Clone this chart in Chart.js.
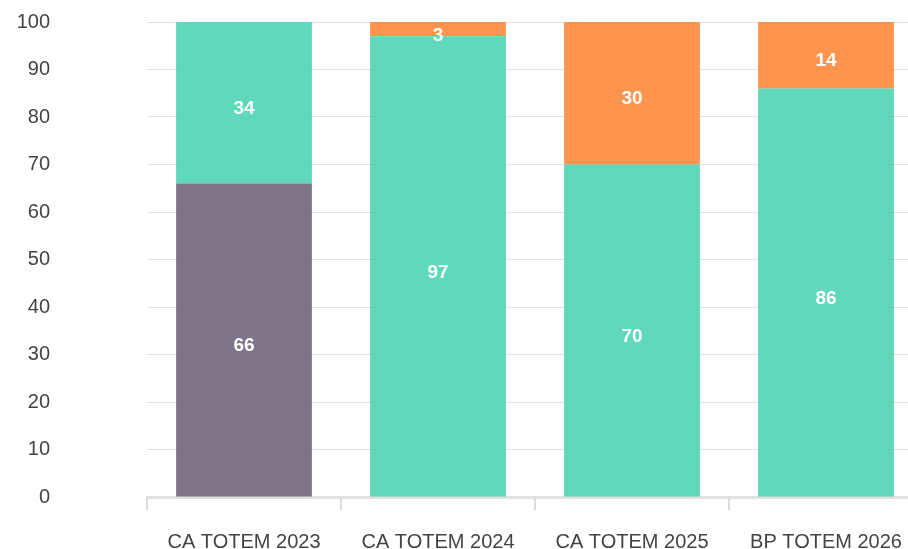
<!DOCTYPE html>
<html>
<head>
<meta charset="utf-8">
<script src="https://cdn.jsdelivr.net/npm/chart.js@4/dist/chart.umd.min.js"></script>
<style>
  html, body { margin: 0; padding: 0; background: #fff; }
  #clip { width: 908px; height: 549px; overflow: hidden; position: relative; }
  canvas { display: block; }
</style>
</head>
<body>
<div id="clip"><canvas id="chart" width="923" height="549" style="width:923px;height:549px"></canvas></div>
<script>
// Données
const categories = ['CA TOTEM 2023', 'CA TOTEM 2024', 'CA TOTEM 2025', 'BP TOTEM 2026'];
const seriesPurple = [66, 0, 0, 0];
const seriesGreen = [34, 97, 70, 86];
const seriesOrange = [0, 3, 30, 14];

const FONT = '"Liberation Sans", Arial, sans-serif';

// Étiquettes de valeurs au centre des segments
const valueLabels = {
  id: 'valueLabels',
  afterDatasetsDraw(chart) {
    const ctx = chart.ctx;
    ctx.save();
    ctx.font = 'bold 19px ' + FONT;
    ctx.fillStyle = '#fff';
    ctx.textAlign = 'center';
    ctx.textBaseline = 'middle';
    chart.data.datasets.forEach((ds, i) => {
      const meta = chart.getDatasetMeta(i);
      meta.data.forEach((bar, j) => {
        const v = ds.data[j];
        if (!v) return;
        const c = bar.getCenterPoint();
        const y = Math.max(c.y + 6, chart.chartArea.top + 14);
        ctx.fillText(String(v), c.x, y);
      });
    });
    ctx.restore();
  }
};

new Chart(document.getElementById('chart'), {
  type: 'bar',
  data: {
    labels: categories,
    datasets: [
      { data: seriesPurple, backgroundColor: 'rgba(104,93,116,0.85)' },
      { data: seriesGreen, backgroundColor: 'rgba(67,209,175,0.85)' },
      { data: seriesOrange, backgroundColor: 'rgba(254,129,46,0.85)' }
    ]
  },
  options: {
    responsive: false,
    animation: false,
    devicePixelRatio: 1,
    layout: { padding: { left: 0, top: 22, right: 0, bottom: 0 } },
    datasets: { bar: { barPercentage: 0.7, categoryPercentage: 1 } },
    plugins: { legend: { display: false }, tooltip: { enabled: false } },
    scales: {
      x: {
        stacked: true,
        grid: { drawOnChartArea: false, drawTicks: true, tickLength: 13, color: '#dcdcdc', lineWidth: 2 },
        border: { display: true, color: '#e0e0e0', width: 3 },
        ticks: { color: '#444', padding: 20, maxRotation: 0, font: { family: FONT, size: 20 } },
        afterFit(scale) { scale.height = 52; }
      },
      y: {
        stacked: true,
        min: 0,
        max: 100,
        grid: { color: '#e2e2e2', lineWidth: 1, drawTicks: false },
        border: { display: false },
        ticks: { stepSize: 10, color: '#444', padding: 97, font: { family: FONT, size: 20 } },
        afterFit(scale) {
          scale.width = 147;
          scale.paddingTop = 12;
          scale.paddingBottom = 12;
        }
      }
    }
  },
  plugins: [valueLabels]
});
</script>
</body>
</html>
